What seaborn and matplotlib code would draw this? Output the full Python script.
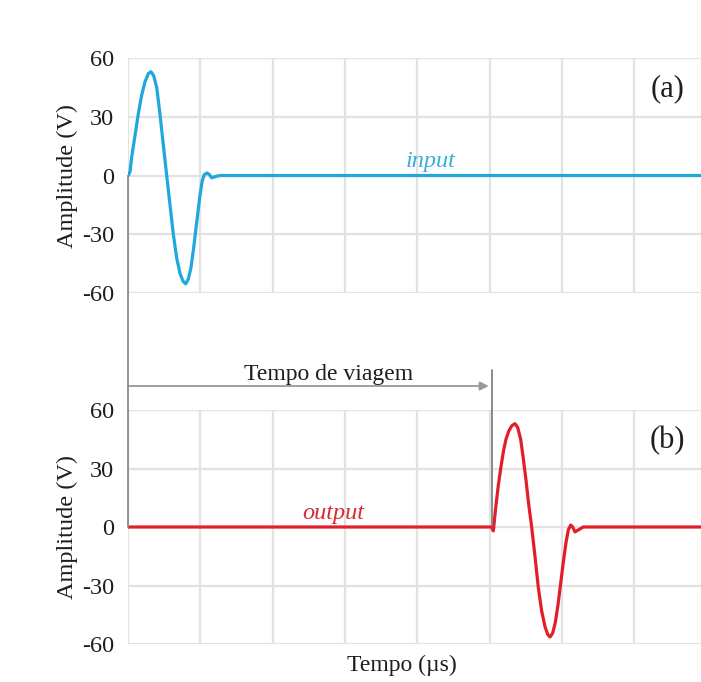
import numpy as np
import pandas as pd
import matplotlib
matplotlib.use("Agg")
import matplotlib.pyplot as plt
import matplotlib.transforms as mtransforms
from matplotlib.patches import ConnectionPatch
import seaborn as sns

# ---- data ----
input_t = [0.0, 0.004, 0.028, 0.051, 0.097, 0.143, 0.189, 0.235, 0.281, 0.318, 0.355,
           0.397, 0.443, 0.489, 0.535, 0.581, 0.627, 0.673, 0.719, 0.761, 0.798,
           0.834, 0.871, 0.908, 0.950, 0.996, 1.028, 1.056, 1.093, 1.125, 1.158,
           1.203, 1.272, 7.93]
input_v = [0.0, 0.0, 2.0, 9.4, 20.5, 31.6, 41.0, 47.8, 52.0, 53.0, 51.0,
           45.0, 31.0, 15.5, 0.0, -15.0, -30.0, -42.0, -50.0, -54.0, -55.3,
           -53.0, -47.0, -37.0, -24.0, -10.0, -2.5, 0.5, 1.3, 0.5, -1.2,
           -0.6, 0.0, 0.0]

output_t = [0.0, 5.030, 5.053, 5.086, 5.122, 5.155, 5.191, 5.228, 5.270, 5.311, 5.353,
            5.390, 5.431, 5.468, 5.505, 5.541, 5.583, 5.629, 5.675, 5.721, 5.767,
            5.804, 5.836, 5.873, 5.910, 5.947, 5.984, 6.021, 6.058, 6.090, 6.123,
            6.150, 6.182, 6.228, 6.297, 7.93]
output_v = [0.0, 0.0, -2.0, 10.0, 21.4, 30.0, 38.5, 45.0, 49.5, 52.0, 53.0,
            51.0, 45.0, 35.0, 24.0, 12.0, 0.0, -15.0, -31.0, -43.0, -51.0,
            -55.0, -56.4, -54.5, -49.0, -40.0, -29.0, -18.0, -8.0, -1.5, 1.0,
            0.0, -2.5, -1.5, 0.0, 0.0]

y_ticks = [-60, -30, 0, 30, 60]
y_ticklabels = ["-60", "-30", "0", "30", "60"]
x_grid = [0, 1, 2, 3, 4, 5, 6, 7]
travel_start = 0.0
travel_end = 4.99
output_start = 5.03

panel_labels = ["(a)", "(b)"]
series_labels = ["input", "output"]
ylabel = "Amplitude (V)"
xlabel = "Tempo (\u00b5s)"
travel_label = "Tempo de viagem"

# ---- style ----
sns.set_theme(style="whitegrid")
plt.rcParams["font.family"] = ["Liberation Serif", "DejaVu Serif"]

W, H = 701, 682
fig = plt.figure(figsize=(W / 100, H / 100), dpi=100)
fig.patch.set_facecolor("white")

def frac_box(left, top, right, bottom):
    return [left / W, 1 - bottom / H, (right - left) / W, (bottom - top) / H]

ax_top = fig.add_axes(frac_box(128, 58, 701, 293))
ax_bot = fig.add_axes(frac_box(128, 410, 701, 644))

blue = "#1fa8dc"
red = "#e11f2b"
txt = "#1e1e1e"
xmax = 573 / 72.3

df_in = pd.DataFrame({"t": input_t, "v": input_v})
df_out = pd.DataFrame({"t": output_t, "v": output_v})

sns.lineplot(data=df_in, x="t", y="v", ax=ax_top, color=blue, linewidth=2.3,
             estimator=None, sort=False, solid_joinstyle="round",
             solid_capstyle="round", zorder=3)
sns.lineplot(data=df_out, x="t", y="v", ax=ax_bot, color=red, linewidth=2.3,
             estimator=None, sort=False, solid_joinstyle="round",
             solid_capstyle="round", zorder=3)

for ax in (ax_top, ax_bot):
    ax.set_xlim(0, xmax)
    ax.set_ylim(-60, 60)
    ax.set_yticks(y_ticks)
    ax.set_yticklabels(y_ticklabels)
    ax.set_xticks(x_grid)
    ax.set_xticklabels([])
    ax.set_facecolor("white")
    for s in ax.spines.values():
        s.set_visible(False)
    ax.grid(True, color="#e2e2e2", linewidth=1.6)
    ax.tick_params(axis="y", length=0, pad=10, labelsize=17.5, labelcolor=txt)
    ax.tick_params(axis="x", length=0)
    ax.set_xlabel("")
    ax.set_ylabel(ylabel, fontsize=17.5, color=txt)
    ax.yaxis.set_label_coords(-0.087, 0.5)

ax_top.text(4.19, 4.5, series_labels[0], color="#3aaed8", fontsize=17.5,
            style="italic", ha="center", va="baseline")
ax_bot.text(2.84, 4.3, series_labels[1], color="#d42a32", fontsize=17.5,
            style="italic", ha="center", va="baseline")

ax_top.text(0.942, 0.87, panel_labels[0], transform=ax_top.transAxes,
            fontsize=22, ha="center", va="center", color=txt)
ax_bot.text(0.942, 0.87, panel_labels[1], transform=ax_bot.transAxes,
            fontsize=22, ha="center", va="center", color=txt)

# vertical line from input start to output axis
con = ConnectionPatch(xyA=(travel_start, 0), coordsA=ax_top.transData,
                      xyB=(travel_start, 0), coordsB=ax_bot.transData,
                      color="#8a8a8a", linewidth=1.3, zorder=5)
fig.add_artist(con)

# travel time arrow
trans = mtransforms.blended_transform_factory(ax_bot.transData, fig.transFigure)
y_arrow = 1 - 386 / H
ax_bot.annotate("", xy=(travel_end, y_arrow), xycoords=trans,
                xytext=(travel_start, y_arrow), textcoords=trans,
                arrowprops=dict(arrowstyle="-|>", color="#999999", lw=1.3,
                                mutation_scale=13, shrinkA=0, shrinkB=0,
                                facecolor="#111111"),
                annotation_clip=False)
ax_bot.plot([output_start, output_start], [1 - 370 / H, 1 - 525 / H],
            transform=trans, color="#777777", linewidth=1.2, clip_on=False, zorder=5)
ax_bot.text(2.77, 1 - 380 / H, travel_label, transform=trans, fontsize=17,
            ha="center", va="baseline", color=txt)

fig.text(402 / W, 1 - 665 / H, xlabel, fontsize=17, ha="center", va="center",
         color=txt)

fig.savefig("out.png", dpi=100, facecolor="white")
